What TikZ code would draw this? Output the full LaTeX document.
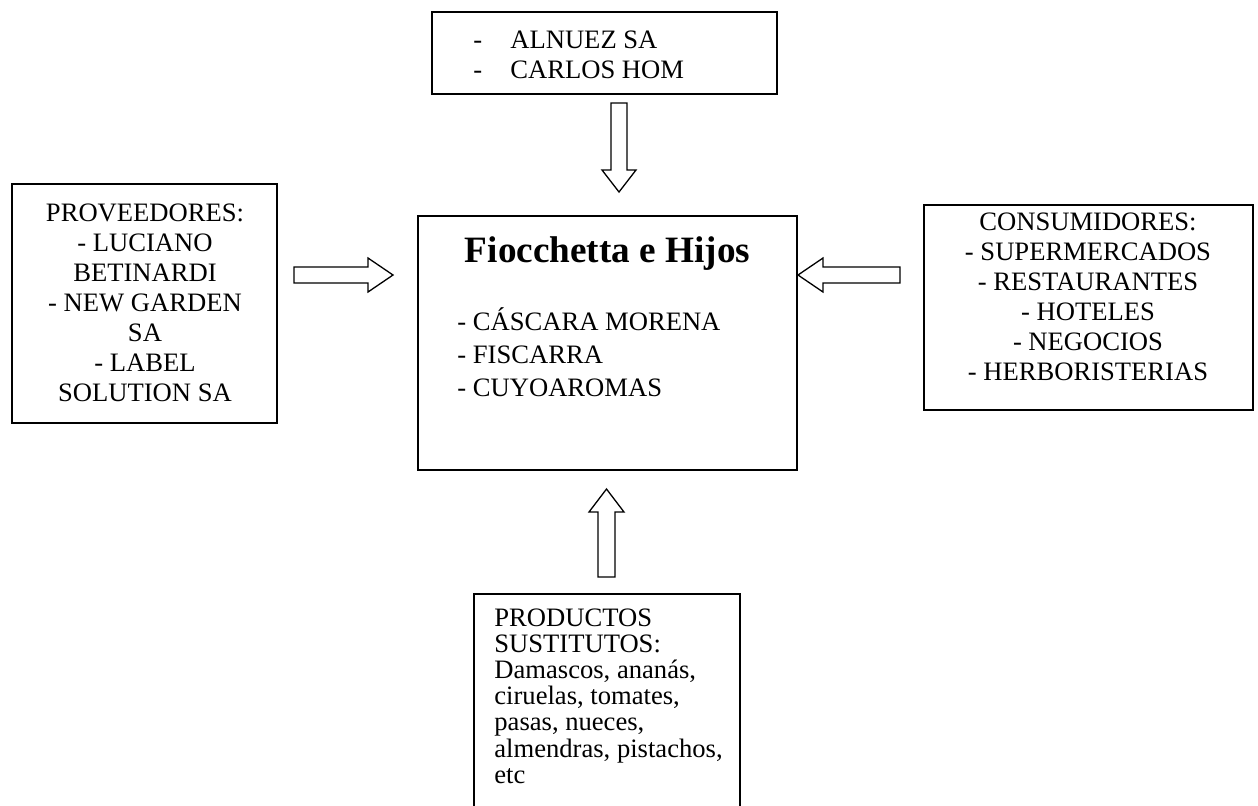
\documentclass[tikz,border=0pt]{standalone}
\usepackage{fontspec}
\setmainfont{Liberation Serif}
\begin{document}
\begin{tikzpicture}[x=0.5pt,y=-0.5pt,
  box/.style={draw, line width=1pt, inner sep=0pt},
  txt/.style={inner sep=0pt, font=\fontsize{13.3}{15}\selectfont},
  titletxt/.style={inner sep=0pt, font=\fontsize{18.6}{22}\selectfont\bfseries},
  arrowline/.style={draw, line width=0.65pt, line join=miter, fill=white},
  pics/barr/.style args={#1/#2/#3/#4}{code={
    \path[arrowline] (0,-#2) -- (#1-#4,-#2) -- (#1-#4,-#3) -- (#1,0)
      -- (#1-#4,#3) -- (#1-#4,#2) -- (0,#2) -- cycle;}}]
\useasboundingbox (0,0) rectangle (1258,805);
\clip (0,0) rectangle (1258,805);
\fill[white] (0,0) rectangle (1258,805);

% boxes
\node[box, minimum width=172.5pt, minimum height=41pt] (top) at (604.5,53) {};
\node[box, minimum width=132.5pt, minimum height=119.5pt] (left) at (144.5,303.5) {};
\node[box, minimum width=189.5pt, minimum height=127pt] (center) at (607.5,343) {};
\node[box, minimum width=164.5pt, minimum height=102.5pt] (right) at (1088.5,307.5) {};
\node[box, minimum width=133pt, minimum height=118pt] (bottom) at (607,712) {};

% texts
\node[txt, align=left, anchor=west] (toptxt) at (473,55)
  {\makebox[18.5pt][l]{-}ALNUEZ SA\\\makebox[18.5pt][l]{-}CARLOS HOM};
\node[txt, align=center] (lefttxt) at (145,303)
  {PROVEEDORES:\\- LUCIANO\\BETINARDI\\- NEW GARDEN\\SA\\- LABEL\\SOLUTION SA};
\node[txt, align=center] (righttxt) at (1088,297)
  {CONSUMIDORES:\\- SUPERMERCADOS\\- RESTAURANTES\\- HOTELES\\- NEGOCIOS\\- HERBORISTERIAS};
\node[titletxt, anchor=base] (title) at (607.5,262.3) {Fiocchetta e Hijos};
\node[txt, font=\fontsize{13.3}{16.5}\selectfont, align=left, anchor=west] (items) at (457,352)
  {- CÁSCARA MORENA\\- FISCARRA\\- CUYOAROMAS};
\node[txt, font=\fontsize{13.3}{13.1}\selectfont, align=left, anchor=west] (subtxt) at (494,696)
  {PRODUCTOS\\SUSTITUTOS:\\Damascos, ananás,\\ciruelas, tomates,\\pasas, nueces,\\almendras, pistachos,\\etc};

% block arrows
\coordinate (aL) at (294,275);
\coordinate (aR) at (900,275);
\coordinate (aT) at (619,103);
\coordinate (aB) at (606.5,577);
\pic at (aL) {barr=99/8/17/25};
\pic[rotate=180] at (aR) {barr=102/8/17/25};
\pic[rotate=-90] at (aT) {barr=89/8/17/22};
\pic[rotate=90] at (aB) {barr=88/8.5/17.5/23};
\end{tikzpicture}
\end{document}
